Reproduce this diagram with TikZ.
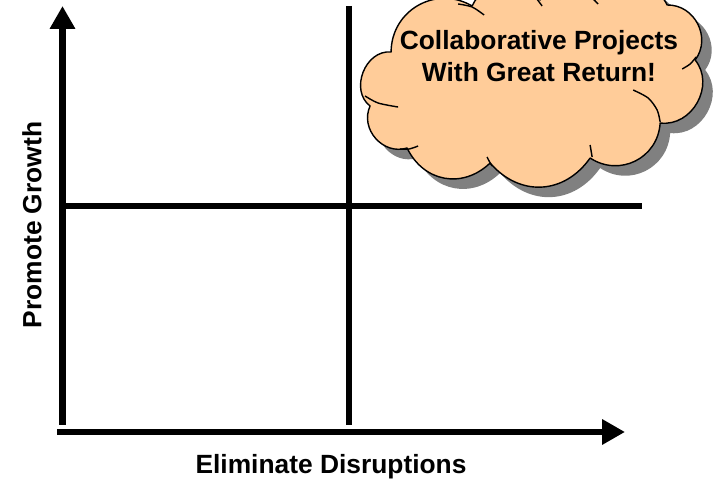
\documentclass[tikz,border=0pt]{standalone}
\usepackage{fontspec}
\setmainfont{Liberation Sans}
\definecolor{CloudFill}{RGB}{255,204,153}
\definecolor{ShadowGray}{RGB}{128,128,128}
\usetikzlibrary{arrows.meta, positioning}
\tikzset{
    axis/.style={line width=3.7pt, -{Triangle[width=13.7pt, length=13pt]}},
    divider/.style={line width=3.7pt},
    label/.style={font=\fontsize{15}{18}\selectfont\bfseries, align=center},
    puffarc/.style={bend right=#1, looseness=1.15},
    cloudline/.style={line width=0.8pt, line join=round}
}
% outline of the cloud, in pixel units (y pointing down)
\newcommand{\cloudoutline}{
    (472,6) to[puffarc=60] (391,52) to[puffarc=74] (370,106) to[puffarc=66] (407,148)
    to[puffarc=54] (490,163) to[puffarc=52] (590,158) to[puffarc=60] (660,123)
    to[puffarc=68] (695,60) to[puffarc=64] (667,5) to[puffarc=60] (595,0)
    to[puffarc=60] (540,0) to[puffarc=60] (472,6) -- cycle
}

\begin{document}
\begin{tikzpicture}
    \useasboundingbox (0,0) rectangle (14.3,9.74);

    % corners of the grid
    \coordinate (ybottom) at (1.25,1.24);
    \coordinate (ytop) at (1.25,9.62);
    \coordinate (xleft) at (1.14,1.10);
    \coordinate (xright) at (12.5,1.10);
    \coordinate (midtop) at (6.98,9.62);
    \coordinate (midbottom) at (6.98,1.24);
    \coordinate (midleft) at (1.25,5.62);
    \coordinate (midright) at (12.84,5.62);

    \draw[axis] (ybottom) -- (ytop);
    \draw[axis] (xleft) -- (xright);
    \draw[divider] (midtop) -- (midbottom);
    \draw[divider] (midleft) -- (midright);

    \node[label, rotate=90] (growth) at (0.64,5.24) {Promote Growth};
    \node[label] (disruptions) at (6.62,0.40) {Eliminate Disruptions};

    % cloud with its shadow
    \begin{scope}[shift={(0cm,9.74cm)}, x=0.02cm, y=-0.02cm]
        \fill[ShadowGray, shift={(10,10)}] \cloudoutline;
        \draw[cloudline, fill=CloudFill] \cloudoutline;
        % short inner strokes where the puffs overlap
        \draw[cloudline] plot[smooth] coordinates {(458,4) (472,7) (484,15)};
        \draw[cloudline] plot[smooth] coordinates {(365,96) (378,103) (398,107)};
        \draw[cloudline] plot[smooth] coordinates {(400,149) (409,149) (418,146)};
        \draw[cloudline] plot[smooth] coordinates {(487,157) (489,161) (492,166)};
        \draw[cloudline] plot[smooth] coordinates {(590,145) (591,151) (592,157)};
        \draw[cloudline] plot[smooth] coordinates {(633,90) (648,98) (657,110) (660,122)};
        \draw[cloudline] plot[smooth] coordinates {(696,57) (690,64) (682,69)};
        \draw[cloudline] plot[smooth] coordinates {(536,-2) (539,2) (542,6)};
        \draw[cloudline] plot[smooth] coordinates {(592,-2) (595,1) (598,4)};
    \end{scope}
    \node[label] (projects) at (10.78,8.62) {Collaborative Projects\\With Great Return!};
\end{tikzpicture}
\end{document}
